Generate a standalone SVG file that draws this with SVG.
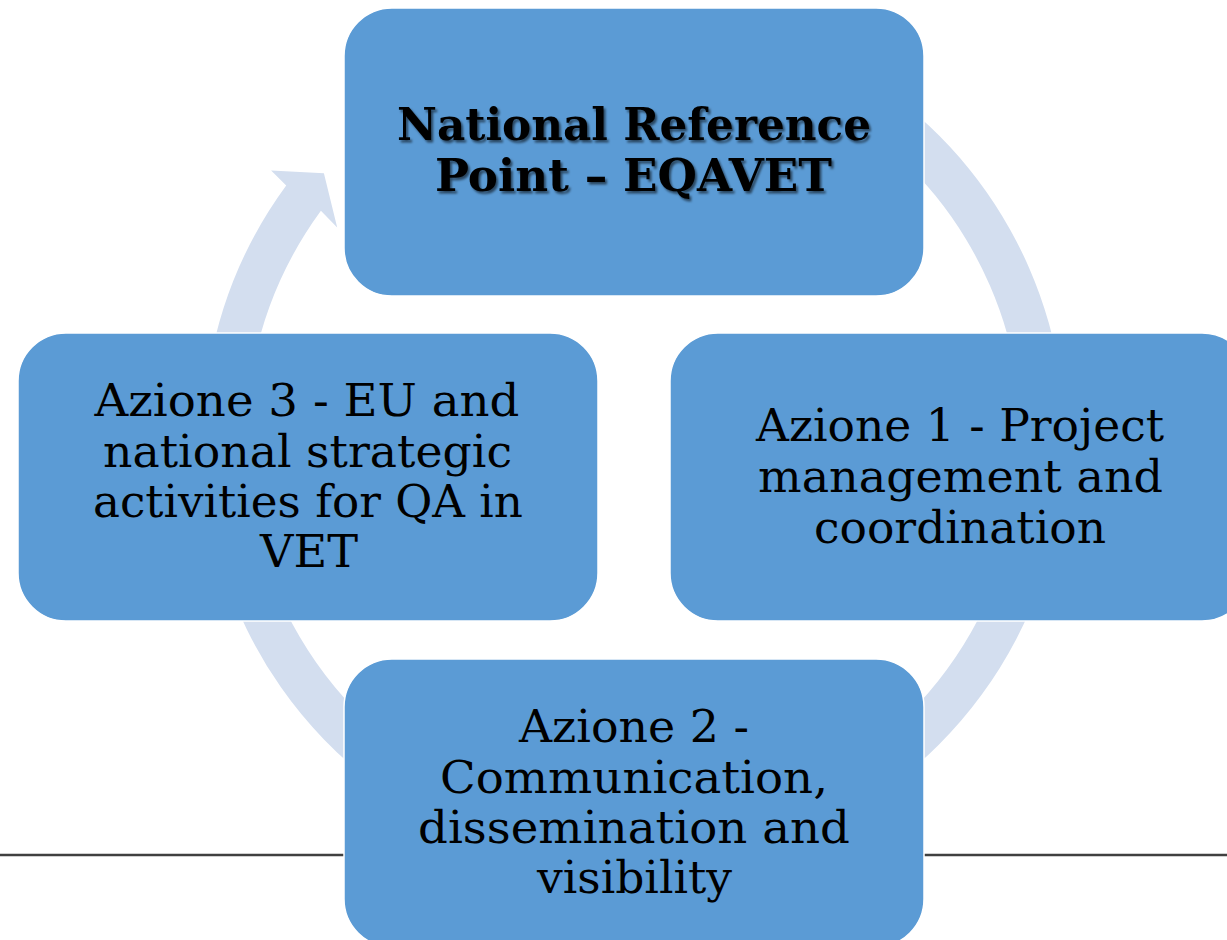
<svg xmlns="http://www.w3.org/2000/svg" width="1227" height="940" viewBox="0 0 1227 940">
<style>
.node{fill:#5B9BD5;stroke:#FFFFFF;stroke-width:1.5}
.arc{fill:#D3DEEF}
.t{font-family:"DejaVu Serif","Liberation Serif",serif;font-size:45px;fill:#000;text-anchor:middle}
.tb{font-family:"DejaVu Serif","Liberation Serif",serif;font-size:44px;font-weight:bold;fill:#000;text-anchor:middle;filter:url(#sh)}
</style>
<defs>
<filter id="sh" x="-10%" y="-30%" width="120%" height="160%">
<feDropShadow dx="2" dy="2.5" stdDeviation="1" flood-color="#000" flood-opacity="0.55"/>
</filter>
</defs>
<rect x="0" y="0" width="1227" height="940" fill="#FFFFFF"/>
<line x1="0" y1="855" x2="1227" y2="855" stroke="#404040" stroke-width="2.5"/>
<g id="connectors">
<path class="arc" d="M 209.5,365.2 A 431 431 0 0 1 286.2,185.5 L 271.1,170.5 L 323.9,173.3 L 337.2,227.5 L 320.9,210.8 A 388 388 0 0 0 251.9,372.6 Z"/>
<path class="arc" d="M 781.4,35.0 A 431 431 0 0 1 1060.8,380.0 L 1082.0,380.2 L 1042.2,415.0 L 994.9,385.4 L 1018.2,386.0 A 388 388 0 0 0 766.7,75.4 Z"/>
<path class="arc" d="M 1058.5,514.8 A 431 431 0 0 1 708.8,864.5 L 709.4,885.7 L 673.2,847.1 L 701.1,798.8 L 701.4,822.1 A 388 388 0 0 0 1016.1,507.4 Z"/>
<path class="arc" d="M 559.2,864.5 A 431 431 0 0 1 207.2,500.0 L 186.0,499.8 L 225.8,465.0 L 273.1,494.6 L 249.8,494.0 A 388 388 0 0 0 566.6,822.1 Z"/>
</g>
<g id="node-nrp">
<rect class="node" x="344" y="8" width="580" height="288" rx="48" ry="48"/>
<text class="tb" x="634" y="140" textLength="474" lengthAdjust="spacingAndGlyphs">National Reference</text>
<text class="tb" x="633.5" y="191" textLength="397" lengthAdjust="spacingAndGlyphs">Point – EQAVET</text>
</g>
<g id="node-azione1">
<rect class="node" x="670" y="333" width="580" height="288" rx="48" ry="48"/>
<text class="t" x="960" y="441" textLength="408" lengthAdjust="spacingAndGlyphs">Azione 1 - Project</text>
<text class="t" x="960.5" y="492" textLength="405" lengthAdjust="spacingAndGlyphs">management and</text>
<text class="t" x="960" y="543" textLength="292" lengthAdjust="spacingAndGlyphs">coordination</text>
</g>
<g id="node-azione2">
<rect class="node" x="344" y="659" width="580" height="288" rx="48" ry="48"/>
<text class="t" x="634" y="742" textLength="230" lengthAdjust="spacingAndGlyphs">Azione 2 -</text>
<text class="t" x="634" y="793" textLength="388" lengthAdjust="spacingAndGlyphs">Communication,</text>
<text class="t" x="634" y="843" textLength="432" lengthAdjust="spacingAndGlyphs">dissemination and</text>
<text class="t" x="634.5" y="893" textLength="195" lengthAdjust="spacingAndGlyphs">visibility</text>
</g>
<g id="node-azione3">
<rect class="node" x="18" y="333" width="580" height="288" rx="48" ry="48"/>
<text class="t" x="307" y="416" textLength="425" lengthAdjust="spacingAndGlyphs">Azione 3 - EU and</text>
<text class="t" x="307.5" y="467" textLength="409" lengthAdjust="spacingAndGlyphs">national strategic</text>
<text class="t" x="308" y="517" textLength="430" lengthAdjust="spacingAndGlyphs">activities for QA in</text>
<text class="t" x="309" y="567" textLength="98" lengthAdjust="spacingAndGlyphs">VET</text>
</g>
</svg>
